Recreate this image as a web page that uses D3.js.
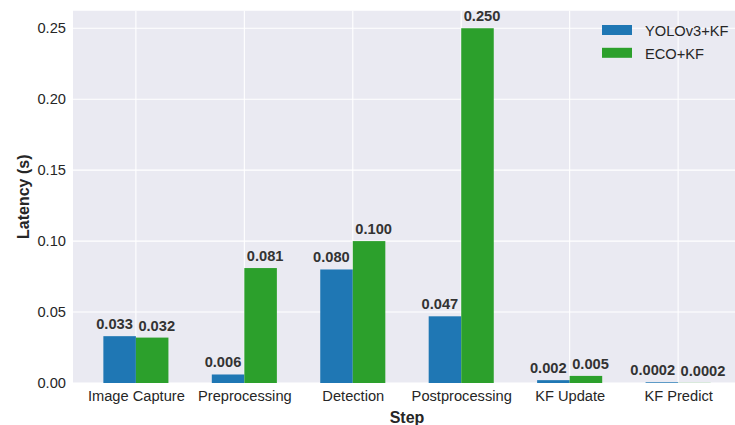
<!DOCTYPE html>
<html><head><meta charset="utf-8">
<script src="https://cdn.jsdelivr.net/npm/d3@7"></script>
<style>
html,body{margin:0;padding:0;background:#fff;}
text{font-family:"Liberation Sans",Arial,sans-serif;}
</style></head>
<body>
<svg id="chart" width="735" height="425"></svg>
<script>
const categories = ["Image Capture","Preprocessing","Detection","Postprocessing","KF Update","KF Predict"];
const seriesNames = ["YOLOv3+KF","ECO+KF"];
const yoloValues = [0.033, 0.006, 0.080, 0.047, 0.002, 0.0005];
const ecoValues  = [0.032, 0.081, 0.100, 0.250, 0.005, 0.0001];
const yoloLabels = ["0.033","0.006","0.080","0.047","0.002","0.0002"];
const ecoLabels  = ["0.032","0.081","0.100","0.250","0.005","0.0002"];
const yTicks = [0.00,0.05,0.10,0.15,0.20,0.25];
const colors = ["#1f77b4","#2ca02c"];

const svg = d3.select("#chart");
const pLeft = 73, pRight = 741, pTop = 10.5, pBottom = 383;
const barW = 0.3;

const x = d3.scaleLinear().domain([-0.58, categories.length - 1 + 0.58]).range([pLeft, pRight]);
const y = d3.scaleLinear().domain([0, 0.2625]).range([pBottom, pTop]);

const clipId = "plotclip";
svg.append("defs").append("clipPath").attr("id", clipId)
  .append("rect").attr("x", pLeft).attr("y", pTop).attr("width", pRight-pLeft).attr("height", pBottom-pTop);

const plot = svg.append("g").attr("clip-path", `url(#${clipId})`);
plot.append("rect").attr("x", pLeft).attr("y", pTop).attr("width", pRight-pLeft).attr("height", pBottom-pTop).attr("fill", "#eaeaf2");

// gridlines
plot.selectAll("line.hg").data(yTicks).enter().append("line")
  .attr("x1", pLeft).attr("x2", pRight)
  .attr("y1", d => y(d)).attr("y2", d => y(d))
  .attr("stroke", "#fff").attr("stroke-width", 1.1);
plot.selectAll("line.vg").data(categories).enter().append("line")
  .attr("x1", (d,i) => x(i)).attr("x2", (d,i) => x(i))
  .attr("y1", pTop).attr("y2", pBottom)
  .attr("stroke", "#fff").attr("stroke-width", 1.1);

const series = [yoloValues, ecoValues];
const labelsArr = [yoloLabels, ecoLabels];
series.forEach((vals, s) => {
  plot.selectAll(null).data(vals).enter().append("rect")
    .attr("x", (d,i) => x(i + (s === 0 ? -barW : 0)))
    .attr("width", x(barW) - x(0))
    .attr("y", d => y(d))
    .attr("height", d => y(0) - y(d))
    .attr("fill", colors[s]);
});

// value labels
series.forEach((vals, s) => {
  svg.selectAll(null).data(vals).enter().append("text")
    .attr("x", (d,i) => s === 0 ? x(i) - 3 : x(i) + 2.5)
    .attr("y", d => y(d) - 7)
    .attr("text-anchor", s === 0 ? "end" : "start")
    .attr("font-size", "14.67px").attr("font-weight", "bold").attr("fill", "#333")
    .text((d,i) => labelsArr[s][i]);
});

// y axis
const yAxis = d3.axisLeft(y).tickValues(yTicks).tickFormat(d3.format(".2f")).tickSize(0).tickPadding(7);
const ya = svg.append("g").attr("transform", `translate(${pLeft},0)`).call(yAxis);
ya.select(".domain").remove();
ya.selectAll("text").attr("font-size", "14.67px").attr("fill", "#262626")
  .attr("font-family", "'Liberation Sans',Arial,sans-serif");

// x axis
const xAxis = d3.axisBottom(x).tickValues(d3.range(categories.length)).tickFormat(i => categories[i]).tickSize(0).tickPadding(8);
const xa = svg.append("g").attr("transform", `translate(0,${pBottom})`).call(xAxis);
xa.select(".domain").remove();
xa.selectAll("text").attr("font-size", "14.67px").attr("fill", "#262626")
  .attr("font-family", "'Liberation Sans',Arial,sans-serif");

// axis titles
svg.append("text").attr("x", (pLeft + pRight) / 2).attr("y", 423)
  .attr("text-anchor", "middle").attr("font-size", "16px").attr("font-weight", "bold").attr("fill", "#262626")
  .text("Step");
svg.append("text").attr("transform", `translate(29,${(pTop+pBottom)/2}) rotate(-90)`)
  .attr("text-anchor", "middle").attr("font-size", "16px").attr("font-weight", "bold").attr("fill", "#262626")
  .text("Latency (s)");

// legend
const lg = svg.append("g");
seriesNames.forEach((n, i) => {
  lg.append("rect").attr("x", 602).attr("y", 25 + i*22.8).attr("width", 30).attr("height", 10).attr("fill", colors[i]);
  lg.append("text").attr("x", 645).attr("y", 36 + i*22.8).attr("font-size", "14.67px").attr("fill", "#262626").text(n);
});
</script>
</body></html>
